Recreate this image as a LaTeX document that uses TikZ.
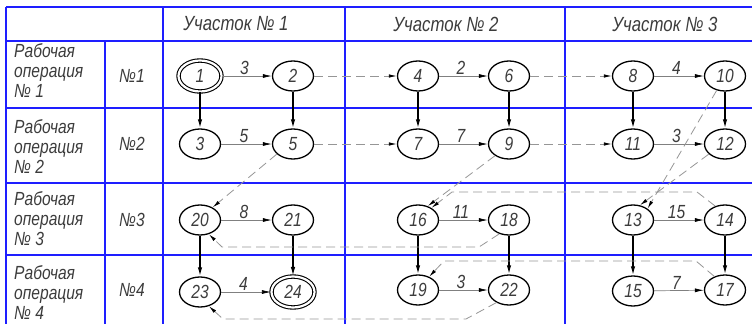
\documentclass[tikz,border=0pt]{standalone}
\usepackage{fontspec}
\setmainfont{Liberation Sans}[FakeStretch=0.82]
\usetikzlibrary{shapes.geometric,arrows.meta}
\definecolor{gridblue}{RGB}{30,30,255}
\definecolor{txt}{RGB}{60,60,60}
\definecolor{dashgray}{RGB}{150,150,150}
\begin{document}
\begin{tikzpicture}[x=1pt,y=-1pt,
  grid/.style={draw=gridblue,line width=1.6pt},
  ev/.style={ellipse,draw=black,line width=1.3pt,minimum width=41pt,minimum height=30pt,inner sep=0pt,
    font=\fontsize{19}{19}\selectfont\itshape,text=txt},
  evd/.style={ev,double,double distance=2.2pt,line width=1.1pt,minimum width=43pt,minimum height=31pt},
  harr/.style={draw=gray,line width=0.7pt,-{Latex[length=9pt,width=4pt,color=black]}},
  varr/.style={draw=black,line width=1.4pt,-{Latex[length=9pt,width=4.5pt]}},
  darr/.style={draw=dashgray,line width=0.8pt,dash pattern=on 9pt off 5pt,-{Latex[length=8pt,width=3.5pt,color=black]}},
  lab/.style={font=\fontsize{19}{19}\selectfont\itshape,text=txt,inner sep=1pt},
  hdr/.style={font=\fontsize{20.5}{20.5}\selectfont\itshape,text=txt,inner sep=0pt},
  rowlab/.style={font=\fontsize{19}{20}\selectfont\itshape,text=txt,align=left,anchor=west,inner sep=0pt},
  numlab/.style={font=\fontsize{19}{19}\selectfont\itshape,text=txt,inner sep=0pt},
]
\useasboundingbox (0,0) rectangle (752,324);
% grid
\draw[grid] (6,7) -- (752,7);
\draw[grid] (6,41) -- (752,41);
\draw[grid] (6,108) -- (752,108);
\draw[grid] (6,183) -- (752,183);
\draw[grid] (6,255) -- (752,255);
\draw[grid] (6,7) -- (6,324);
\draw[grid] (105,41) -- (105,324);
\draw[grid] (163,7) -- (163,324);
\draw[grid] (345,7) -- (345,324);
\draw[grid] (565,7) -- (565,324);
% headers
\node[hdr] (h1) at (236,24) {Участок № 1};
\node[hdr] (h2) at (446,24) {Участок № 2};
\node[hdr] (h3) at (665,24) {Участок № 3};
% row labels
\node[rowlab] (r1) at (14,71) {Рабочая\\операция\\№ 1};
\node[rowlab] (r2) at (14,147) {Рабочая\\операция\\№ 2};
\node[rowlab] (r3) at (14,219) {Рабочая\\операция\\№ 3};
\node[rowlab] (r4) at (14,293) {Рабочая\\операция\\№ 4};
\node[numlab] (k1) at (132,76) {№1};
\node[numlab] (k2) at (132,144) {№2};
\node[numlab] (k3) at (132,220) {№3};
\node[numlab] (k4) at (132,290) {№4};
% events
\node[evd] (n1) at (200,76) {1};
\node[ev] (n2) at (293,76) {2};
\node[ev] (n3) at (200,144) {3};
\node[ev] (n5) at (293,144) {5};
\node[ev] (n4) at (418,76) {4};
\node[ev] (n6) at (509,76) {6};
\node[ev] (n7) at (418,144) {7};
\node[ev] (n9) at (509,144) {9};
\node[ev] (n8) at (633,76) {8};
\node[ev] (n10) at (725,76) {10};
\node[ev] (n11) at (633,144) {11};
\node[ev] (n12) at (725,144) {12};
\node[ev] (n20) at (200,220) {20};
\node[ev] (n21) at (293,220) {21};
\node[ev] (n23) at (200,292) {23};
\node[evd] (n24) at (293,292) {24};
\node[ev] (n16) at (418,220) {16};
\node[ev] (n18) at (509,220) {18};
\node[ev] (n19) at (418,290) {19};
\node[ev] (n22) at (509,290) {22};
\node[ev] (n13) at (633,220) {13};
\node[ev] (n14) at (725,220) {14};
\node[ev] (n15) at (633,291) {15};
\node[ev] (n17) at (725,290) {17};
% horizontal solid
\draw[harr] (n1) -- node[lab,above,pos=0.45]{3} (n2);
\draw[harr] (n3) -- node[lab,above,pos=0.45]{5} (n5);
\draw[harr] (n4) -- node[lab,above,pos=0.45]{2} (n6);
\draw[harr] (n7) -- node[lab,above,pos=0.45]{7} (n9);
\draw[harr] (n8) -- node[lab,above,pos=0.45]{4} (n10);
\draw[harr] (n11) -- node[lab,above,pos=0.45]{3} (n12);
\draw[harr] (n20) -- node[lab,above,pos=0.45]{8} (n21);
\draw[harr] (n23) -- node[lab,above,pos=0.45]{4} (n24);
\draw[harr] (n16) -- node[lab,above,pos=0.45]{11} (n18);
\draw[harr] (n19) -- node[lab,above,pos=0.45]{3} (n22);
\draw[harr] (n13) -- node[lab,above,pos=0.45]{15} (n14);
\draw[harr] (n15) -- node[lab,above,pos=0.45]{7} (n17);
% vertical solid
\draw[varr] (n1) -- (n3);
\draw[varr] (n2) -- (n5);
\draw[varr] (n4) -- (n7);
\draw[varr] (n6) -- (n9);
\draw[varr] (n8) -- (n11);
\draw[varr] (n10) -- (n12);
\draw[varr] (n20) -- (n23);
\draw[varr] (n21) -- (n24);
\draw[varr] (n16) -- (n19);
\draw[varr] (n18) -- (n22);
\draw[varr] (n13) -- (n15);
\draw[varr] (n14) -- (n17);
% dashed
\draw[darr] (n2) -- (n4);
\draw[darr] (n6) -- (n8);
\draw[darr] (n5) -- (n7);
\draw[darr] (n9) -- (n11);
\draw[darr] (n5.212) -- (n20.45);
\draw[darr] (n9.220) -- (n16.55);
\draw[darr] (n10.240) -- (n13.38);
\draw[darr] (n12.212) -- (n13.65);
\draw[darr] (n14.125) -- (697,192) -- (452,192) -- (n16.42);
\draw[darr] (n18.235) -- (479,247) -- (222,247) -- (n20.-58);
\draw[darr] (n17.128) -- (696,261) -- (444,261) -- (n19.50);
\draw[darr] (n22.225) -- (466,319) -- (223,319) -- (n23.-58);
\end{tikzpicture}
\end{document}
